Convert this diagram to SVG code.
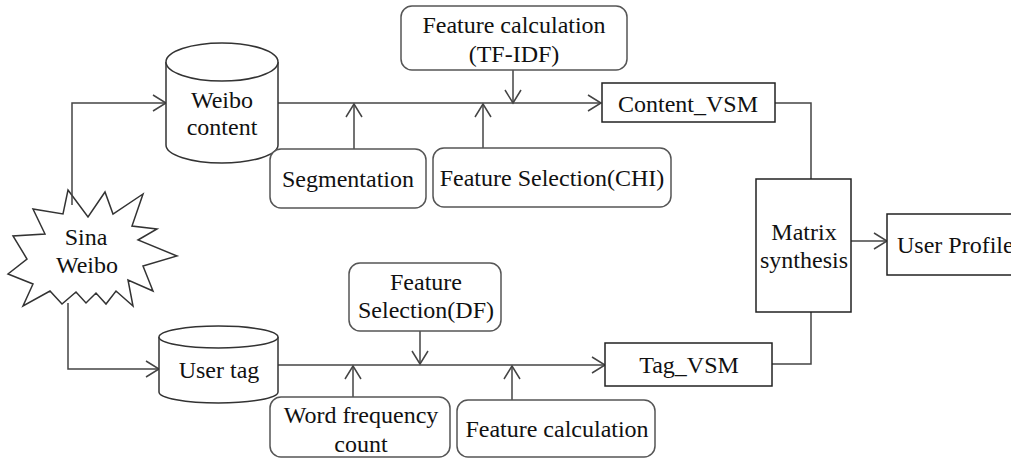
<svg xmlns="http://www.w3.org/2000/svg" width="1011" height="459" viewBox="0 0 1011 459">
<defs>
<style>
text{font-family:"Liberation Serif","Times New Roman",serif;font-size:24px;fill:#111;text-anchor:middle}
.rb{fill:#fff;stroke:#555;stroke-width:1.5}
.rc{fill:#fff;stroke:#222;stroke-width:1.5}
.cy{fill:#fff;stroke:#333;stroke-width:1.5}
.cn{fill:none;stroke:#444;stroke-width:1.5}
</style>
<marker id="ar" markerUnits="userSpaceOnUse" markerWidth="16" markerHeight="18" refX="14" refY="9" orient="auto" viewBox="0 0 16 18">
<path d="M1,1 L14,9 L1,17" fill="none" stroke="#444" stroke-width="1.5"/>
</marker>
</defs>
<rect width="1011" height="459" fill="#fff"/>

<g id="sina-weibo">
<polygon class="cy" points="68,190 88,217 105,192 113,214 143,194 132,226 157,229 138,240 177,256 143,266 153,291 128,280 133,306 116,291 106,304 96,293 86,303 76,292 62,304 50,291 23,306 33,284 8,274 27,259 13,236 45,234 33,209 63,214"/>
<text x="86" y="245">Sina</text>
<text x="87" y="273">Weibo</text>
</g>

<g id="connectors">
<path class="cn" d="M72,205 V103 H166" marker-end="url(#ar)"/>
<path class="cn" d="M68,303 V369 H159" marker-end="url(#ar)"/>
<path class="cn" d="M278,103 H601" marker-end="url(#ar)"/>
<path class="cn" d="M354,149 V104" marker-end="url(#ar)"/>
<path class="cn" d="M483,148 V104" marker-end="url(#ar)"/>
<path class="cn" d="M513,70 V103" marker-end="url(#ar)"/>
<path class="cn" d="M775,103 H811 V179"/>
<path class="cn" d="M811,312 V364 H772"/>
<path class="cn" d="M851,241 H887" marker-end="url(#ar)"/>
<path class="cn" d="M278,365 H605" marker-end="url(#ar)"/>
<path class="cn" d="M353,397 V366" marker-end="url(#ar)"/>
<path class="cn" d="M420,331 V364" marker-end="url(#ar)"/>
<path class="cn" d="M512,400 V366" marker-end="url(#ar)"/>
</g>

<g id="weibo-content">
<path class="cy" d="M166,62 V145 A56,18 0 0 0 278,145 V62"/>
<ellipse class="cy" cx="222" cy="62" rx="56" ry="19"/>
<text x="222" y="108">Weibo</text>
<text x="222" y="135">content</text>
</g>

<g id="user-tag">
<path class="cy" d="M159,337 V392 A59.5,11 0 0 0 278,392 V337"/>
<ellipse class="cy" cx="218.5" cy="337" rx="59.5" ry="11"/>
<text x="219" y="378">User tag</text>
</g>

<g id="feature-calc-tfidf">
<rect class="rb" x="401" y="6" width="226" height="64" rx="11"/>
<text x="514" y="33">Feature calculation</text>
<text x="514" y="62">(TF-IDF)</text>
</g>

<g id="segmentation">
<rect class="rb" x="270" y="149" width="156" height="59" rx="11"/>
<text x="348" y="187">Segmentation</text>
</g>

<g id="feature-selection-chi">
<rect class="rb" x="433" y="148" width="238" height="59" rx="11"/>
<text x="552" y="186">Feature Selection(CHI)</text>
</g>

<g id="content-vsm">
<rect class="rc" x="602" y="83" width="173" height="39"/>
<text x="688" y="112">Content_VSM</text>
</g>

<g id="matrix-synthesis">
<rect class="rc" x="756" y="179" width="95" height="133"/>
<text x="804" y="240">Matrix</text>
<text x="804" y="268">synthesis</text>
</g>

<g id="user-profile">
<rect class="rc" x="887" y="214" width="140" height="61"/>
<text x="897" y="253" style="text-anchor:start">User Profile</text>
</g>

<g id="feature-selection-df">
<rect class="rb" x="349" y="263" width="152" height="68" rx="11"/>
<text x="426" y="290">Feature</text>
<text x="426" y="318">Selection(DF)</text>
</g>

<g id="tag-vsm">
<rect class="rc" x="605" y="343" width="167" height="43"/>
<text x="689" y="373">Tag_VSM</text>
</g>

<g id="word-frequency-count">
<rect class="rb" x="270" y="397" width="180" height="60" rx="11"/>
<text x="361" y="423">Word frequency</text>
<text x="361" y="452">count</text>
</g>

<g id="feature-calculation">
<rect class="rb" x="457" y="400" width="198" height="57" rx="11"/>
<text x="557" y="437">Feature calculation</text>
</g>
</svg>
